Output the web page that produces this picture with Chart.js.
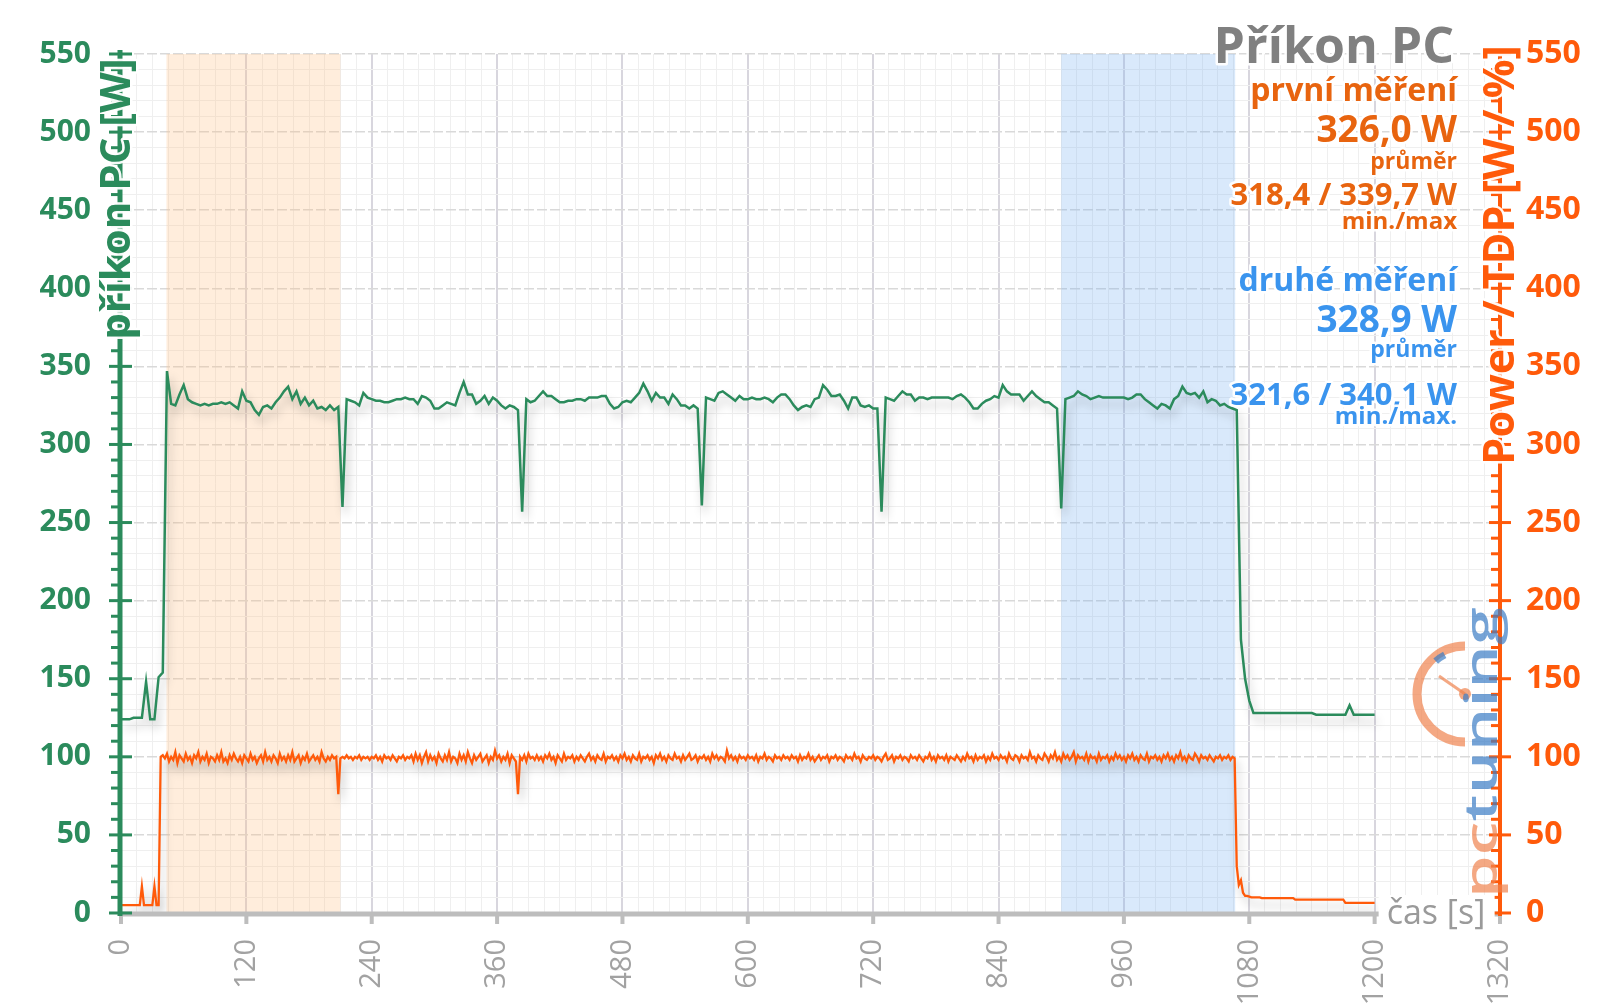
<!DOCTYPE html>
<html lang="cs">
<head>
<meta charset="utf-8">
<title>Příkon PC</title>
<script src="https://cdn.jsdelivr.net/npm/chart.js@4.4.1/dist/chart.umd.min.js"></script>
<style>
  html, body { margin: 0; padding: 0; background: #fff; }
  #wrap { width: 1600px; height: 1008px; position: relative; }
</style>
</head>
<body>
<div id="wrap"><canvas id="chart-prikon"></canvas></div>
<script>
// --- 1. DATA ---

// axis labels
const xTickLabels = [0, 120, 240, 360, 480, 600, 720, 840, 960, 1080, 1200, 1320];
const yTickLabels = [0, 50, 100, 150, 200, 250, 300, 350, 400, 450, 500, 550];

// příkon PC [W], one value every 4 s (0 .. 1200 s)
const prikonStep = 4;
const prikonPC = [
  124,124,124,125,125,125,148,124,124,151,
  154,347,326,325,332,338,329,327,326,325,
  326,325,326,326,327,326,327,325,323,334,
  328,327,322,319,324,325,323,327,330,334,
  337,329,334,326,330,325,328,323,324,322,
  325,322,324,260,329,328,327,325,333,330,
  329,328,328,327,327,328,329,329,330,329,
  329,326,331,330,328,323,323,325,327,326,
  325,333,340,332,332,326,328,331,326,330,
  328,325,323,325,324,322,257,329,327,328,
  331,334,331,331,329,327,327,328,328,329,
  329,328,330,330,330,331,331,326,323,324,
  327,328,327,330,333,339,334,328,333,330,
  330,326,332,329,325,325,323,325,323,261,
  330,329,328,333,334,332,330,328,331,329,
  329,330,329,329,330,329,327,330,332,332,
  329,325,322,324,325,324,329,330,338,335,
  331,331,332,328,323,330,330,325,324,325,
  323,323,257,330,329,328,331,334,332,332,
  328,330,330,329,330,330,330,330,330,329,
  331,332,330,327,323,323,326,328,329,331,
  330,338,334,332,332,332,328,331,334,331,
  329,327,327,325,323,259,329,330,331,334,
  332,331,329,330,331,330,330,330,330,330,
  330,329,330,332,332,329,327,325,323,326,
  325,323,329,331,337,333,332,333,330,334,
  327,329,328,325,326,324,323,322,175,150,
  136,128,128,128,128,128,128,128,128,128,
  128,128,128,128,128,128,127,127,127,127,
  127,127,127,127,133,127,127,127,127,127,
  127
];

// Power / TDP [W / %], one value every 2 s (0 .. 1200 s)
const powerStep = 2;
const powerTDP = [
  5,5,5,5,5,5,5,5,5,5,17,5,5,5,5,5,17,5,5,100,
  101,99,102,97,100,98,103,96,101,99,97,102,98,100,96,101,99,103,97,100,
  98,102,96,100,99,97,101,98,103,97,99,96,101,98,102,99,97,100,96,101,
  99,97,102,98,100,96,99,101,97,103,98,100,97,101,99,96,102,98,100,97,
  101,98,103,97,99,101,96,100,98,102,97,99,101,98,100,97,103,99,97,100,
  98,101,99,100,76,99,100,99,101,99,100,98,100,99,101,98,100,99,100,98,
  100,99,101,98,100,97,101,99,100,98,101,99,97,100,99,101,98,100,99,101,
  97,102,98,101,96,100,103,97,101,98,100,96,102,99,97,101,98,103,97,100,
  99,96,102,98,101,97,103,99,96,101,98,100,102,97,99,101,96,100,98,104,
  99,101,97,100,98,102,96,101,99,97,76,100,98,101,97,102,99,100,98,101,
  98,100,97,101,99,102,98,100,96,101,99,97,102,98,100,99,101,97,100,98,
  101,99,97,100,102,98,100,97,101,99,98,102,97,100,99,101,98,100,97,101,
  99,102,98,100,97,101,99,98,102,97,100,99,101,98,100,96,101,99,102,98,
  100,97,101,99,98,102,99,100,97,101,98,100,102,98,99,101,97,100,99,101,
  98,100,97,102,99,101,98,100,99,97,104,99,101,98,100,97,101,99,100,98,
  101,99,100,98,101,97,100,99,102,98,100,99,97,101,99,100,98,101,99,100,
  98,101,99,100,97,101,98,100,99,102,98,100,97,99,101,98,100,99,101,97,
  100,99,101,98,100,99,97,101,99,100,98,102,99,100,97,101,99,98,100,99,
  101,98,100,99,97,100,102,98,99,101,97,100,99,101,98,100,99,97,101,99,
  100,98,101,99,97,100,99,102,98,100,97,101,99,100,98,101,97,100,99,98,
  101,99,97,100,98,102,99,100,97,101,98,100,99,101,97,100,98,102,99,100,
  98,101,99,100,97,102,99,98,101,100,97,101,99,100,98,103,99,100,97,101,
  99,98,102,100,97,101,99,103,98,100,97,102,99,101,98,100,103,97,101,99,
  100,98,102,97,101,99,100,97,102,98,100,99,101,97,100,98,102,99,101,98,
  100,97,101,99,102,98,100,97,101,99,98,102,97,100,99,101,98,100,97,101,
  99,102,98,100,97,101,99,103,98,100,97,101,99,98,102,100,97,101,99,100,
  98,101,99,97,100,99,101,98,100,99,101,98,100,99,30,18,21,13,11,11,
  10.5,10,10,10,10,10,9.5,9.5,9.5,9.5,9.5,9.5,9.5,9.5,9.5,9.5,9.5,9.5,9.5,9.5,
  9.5,9.5,8.5,8.5,8.5,8.5,8.5,8.5,8.5,8.5,8.5,8.5,8.5,8.5,8.5,8.5,8.5,8.5,8.5,8.5,
  8.5,8.5,8.5,8.5,8.5,8.5,6.5,6.5,6.5,6.5,6.5,6.5,6.5,6.5,6.5,6.5,6.5,6.5,6.5,6.5,
  6.5
];

// measured windows (start s, end s): first and second measurement
const bandFirst = [43.5, 210];
const bandSecond = [900, 1066.5];

// --- 2. STYLE ---
const GREEN = '#2b8b5c';
const ORANGE = '#ff5a0a';
const ORANGE_TEXT = '#e8640f';
const BLUE_TEXT = '#3a94ee';
const GRAY_TITLE = '#808080';
const FONT = '"Open Sans", "Noto Sans", sans-serif';

const infoLines = [
  { text: 'první měření', y: 101, size: 32, color: ORANGE_TEXT },
  { text: '326,0 W', y: 142, size: 37, color: ORANGE_TEXT },
  { text: 'průměr', y: 169, size: 23, color: ORANGE_TEXT },
  { text: '318,4 / 339,7 W', y: 205, size: 31, color: ORANGE_TEXT },
  { text: 'min./max', y: 229, size: 24, color: ORANGE_TEXT },
  { text: 'druhé měření', y: 291, size: 32, color: BLUE_TEXT },
  { text: '328,9 W', y: 332, size: 37, color: BLUE_TEXT },
  { text: 'průměr', y: 357, size: 23, color: BLUE_TEXT },
  { text: '321,6 / 340,1 W', y: 405, size: 31, color: BLUE_TEXT },
  { text: 'min./max.', y: 424, size: 24, color: BLUE_TEXT }
];

const isMajorY = c => c.tick && Math.round(c.tick.value) % 50 === 0;
const isMajorX = c => c.tick && Math.round(c.tick.value) % 120 === 0;

// text with a white halo (like the original)
function haloText(ctx, text, x, y, font, color, align) {
  ctx.font = font;
  ctx.textAlign = align || 'left';
  ctx.textBaseline = 'alphabetic';
  ctx.lineJoin = 'round';
  ctx.strokeStyle = 'rgba(255,255,255,0.95)';
  ctx.lineWidth = 5;
  ctx.strokeText(text, x, y);
  ctx.fillStyle = color;
  ctx.fillText(text, x, y);
}

function drawBand(chart, range, color) {
  const { ctx, chartArea: a, scales: { x } } = chart;
  const x0 = x.getPixelForValue(range[0]);
  const x1 = x.getPixelForValue(range[1]);
  ctx.fillStyle = color;
  ctx.fillRect(x0, a.top, x1 - x0, a.bottom - a.top);
}

function drawAxes(chart) {
  const { ctx, chartArea: a, scales: { x, y, y1 } } = chart;
  ctx.save();
  ctx.lineCap = 'butt';

  // bottom time axis (gray)
  const xEnd = x.getPixelForValue(1320);
  ctx.strokeStyle = '#bdbdbd';
  ctx.lineWidth = 5;
  ctx.beginPath();
  ctx.moveTo(a.left, a.bottom + 1);
  ctx.lineTo(xEnd, a.bottom + 1);
  ctx.stroke();
  ctx.lineWidth = 4;
  xTickLabels.forEach(v => {
    const px = x.getPixelForValue(v);
    ctx.beginPath();
    ctx.moveTo(px, a.bottom);
    ctx.lineTo(px, a.bottom + 11);
    ctx.stroke();
  });

  // left axis (green)
  const lx = a.left - 1;
  ctx.strokeStyle = GREEN;
  ctx.lineWidth = 5;
  ctx.beginPath();
  ctx.moveTo(lx, a.top - 4);
  ctx.lineTo(lx, a.bottom + 3);
  ctx.stroke();
  ctx.lineWidth = 3;
  y.ticks.forEach(t => {
    const py = y.getPixelForValue(t.value);
    const major = Math.round(t.value) % 50 === 0;
    ctx.beginPath();
    ctx.moveTo(major ? lx - 11 : lx - 9, py);
    ctx.lineTo(major ? lx + 12 : lx - 2, py);
    ctx.stroke();
  });

  // right axis (orange)
  const rx = a.right;
  ctx.strokeStyle = ORANGE;
  ctx.lineWidth = 4;
  ctx.beginPath();
  ctx.moveTo(rx, a.top - 4);
  ctx.lineTo(rx, a.bottom + 3);
  ctx.stroke();
  ctx.lineWidth = 3;
  for (let v = 0; v <= 550; v += 10) {
    const py = y1.getPixelForValue(v);
    const major = v % 50 === 0;
    ctx.beginPath();
    ctx.moveTo(major ? rx - 11 : rx - 9, py);
    ctx.lineTo(major ? rx + 11 : rx, py);
    ctx.stroke();
  }
  ctx.restore();
}

function drawLogo(chart) {
  const ctx = chart.ctx;
  ctx.save();
  ctx.globalAlpha = 0.7;

  // gauge
  const cx = 1465, cy = 694;
  ctx.strokeStyle = '#f0834e';
  ctx.lineWidth = 9;
  ctx.beginPath();
  ctx.arc(cx, cy, 48, -Math.PI / 2, Math.PI / 2, true);
  ctx.stroke();
  ctx.strokeStyle = '#3a7cc4';
  ctx.lineWidth = 7;
  ctx.beginPath();
  ctx.arc(cx, cy, 44, -2.3, -2.05, false);
  ctx.stroke();
  ctx.strokeStyle = '#f0834e';
  ctx.lineWidth = 3;
  ctx.beginPath();
  ctx.moveTo(cx, cy);
  ctx.lineTo(cx - 26, cy - 18);
  ctx.stroke();
  ctx.fillStyle = '#f0834e';
  ctx.beginPath();
  ctx.arc(cx, cy, 6, 0, Math.PI * 2);
  ctx.fill();

  // "pctuning" rotated, reading bottom to top
  ctx.translate(1497, 898);
  ctx.rotate(-Math.PI / 2);
  ctx.font = '600 46px ' + FONT;
  ctx.textAlign = 'left';
  ctx.textBaseline = 'alphabetic';
  const wPc = ctx.measureText('pc').width;
  const wAll = ctx.measureText('pctuning').width;
  ctx.scale(291 / wAll, 1);
  ctx.fillStyle = '#f0834e';
  ctx.fillText('pc', 0, 0);
  ctx.fillStyle = '#3a7cc4';
  ctx.fillText('tuning', wPc, 0);
  ctx.restore();
}

function drawTexts(chart) {
  const { ctx, scales: { x }, chartArea: a } = chart;
  ctx.save();

  // title + stats
  haloText(ctx, 'Příkon PC', 1454, 63, 'bold 50px ' + FONT, GRAY_TITLE, 'right');
  infoLines.forEach(l => {
    haloText(ctx, l.text, 1457, l.y, 'bold ' + l.size + 'px ' + FONT, l.color, 'right');
  });

  // x axis title sits on the axis on a white patch
  const cx0 = x.getPixelForValue(1200) + 4;
  ctx.fillStyle = '#ffffff';
  ctx.fillRect(cx0, a.bottom - 18, 116, 40);
  ctx.font = '34px ' + FONT;
  ctx.textAlign = 'left';
  ctx.textBaseline = 'middle';
  ctx.fillStyle = '#9a9a9a';
  ctx.fillText('čas [s]', cx0 + 8, a.bottom + 1);

  // rotated axis titles
  ctx.save();
  ctx.translate(130, 199);
  ctx.rotate(-Math.PI / 2);
  haloText(ctx, 'příkon PC [W]', 0, 0, 'bold 42px ' + FONT, GREEN, 'center');
  ctx.restore();

  ctx.save();
  ctx.translate(1514, 255);
  ctx.rotate(-Math.PI / 2);
  haloText(ctx, 'Power / TDP [W / %]', 0, 0, 'bold 43px ' + FONT, ORANGE, 'center');
  ctx.restore();

  ctx.restore();
}

// --- 3. PLUGIN (bands, shadows, axes, texts) ---
const decorPlugin = {
  id: 'decor',
  beforeDatasetsDraw(chart) {
    const ctx = chart.ctx;
    ctx.save();
    drawBand(chart, bandFirst, 'rgba(255, 190, 130, 0.28)');
    drawBand(chart, bandSecond, 'rgba(120, 175, 240, 0.28)');
    ctx.restore();
  },
  beforeDatasetDraw(chart) {
    const ctx = chart.ctx;
    ctx.save();
    ctx.shadowColor = 'rgba(0, 0, 0, 0.25)';
    ctx.shadowBlur = 10;
    ctx.shadowOffsetX = 3;
    ctx.shadowOffsetY = 7;
  },
  afterDatasetDraw(chart) {
    chart.ctx.restore();
  },
  afterDatasetsDraw(chart) {
    drawAxes(chart);
    drawLogo(chart);
  },
  afterDraw(chart) {
    drawTexts(chart);
  }
};

// --- 4. CHART ---
const ctxChart = document.getElementById('chart-prikon');
new Chart(ctxChart, {
  type: 'line',
  data: {
    datasets: [
      {
        label: 'příkon PC',
        data: prikonPC.map((v, i) => ({ x: i * prikonStep, y: v })),
        yAxisID: 'y',
        borderColor: GREEN,
        borderWidth: 2.5,
        pointRadius: 0,
        tension: 0,
        fill: false
      },
      {
        label: 'Power / TDP',
        data: powerTDP.map((v, i) => ({ x: i * powerStep, y: v })),
        yAxisID: 'y1',
        borderColor: ORANGE,
        borderWidth: 2.3,
        pointRadius: 0,
        tension: 0,
        fill: false
      }
    ]
  },
  options: {
    responsive: true,
    maintainAspectRatio: false,
    animation: false,
    events: [],
    layout: { padding: { top: 54, left: 0, right: 0, bottom: 0 } },
    plugins: {
      legend: { display: false },
      tooltip: { enabled: false }
    },
    scales: {
      x: {
        type: 'linear',
        min: 0,
        max: 1320,
        afterFit: s => { s.height = 95; },
        border: { display: false },
        grid: {
          drawTicks: false,
          color: c => isMajorX(c) ? '#d8d6de' : '#efefef',
          lineWidth: c => isMajorX(c) ? 2 : 1
        },
        ticks: {
          stepSize: 15,
          autoSkip: false,
          minRotation: 90,
          maxRotation: 90,
          padding: 26,
          color: '#a2a2a2',
          font: { family: FONT, size: 29 },
          callback: v => xTickLabels.includes(Math.round(v)) ? String(Math.round(v)) : ''
        }
      },
      y: {
        position: 'left',
        min: 0,
        max: 550,
        afterFit: s => { s.width = 121; },
        border: { display: false, dash: c => isMajorY(c) ? [10, 3] : [] },
        grid: {
          drawTicks: false,
          color: c => isMajorY(c) ? '#d9d9d9' : '#efefef',
          lineWidth: c => isMajorY(c) ? 1.5 : 1
        },
        ticks: {
          stepSize: 10,
          autoSkip: false,
          padding: 30,
          color: GREEN,
          font: { family: FONT, size: 30, weight: 'bold' },
          callback: v => yTickLabels.includes(Math.round(v)) ? String(Math.round(v)) : ''
        }
      },
      y1: {
        position: 'right',
        min: 0,
        max: 550,
        afterFit: s => { s.width = 100; },
        border: { display: false },
        grid: { display: false, drawTicks: false },
        ticks: {
          stepSize: 50,
          padding: 26,
          color: ORANGE,
          font: { family: FONT, size: 32, weight: 'bold' },
          callback: v => String(Math.round(v))
        }
      }
    }
  },
  plugins: [decorPlugin]
});
</script>
</body>
</html>
